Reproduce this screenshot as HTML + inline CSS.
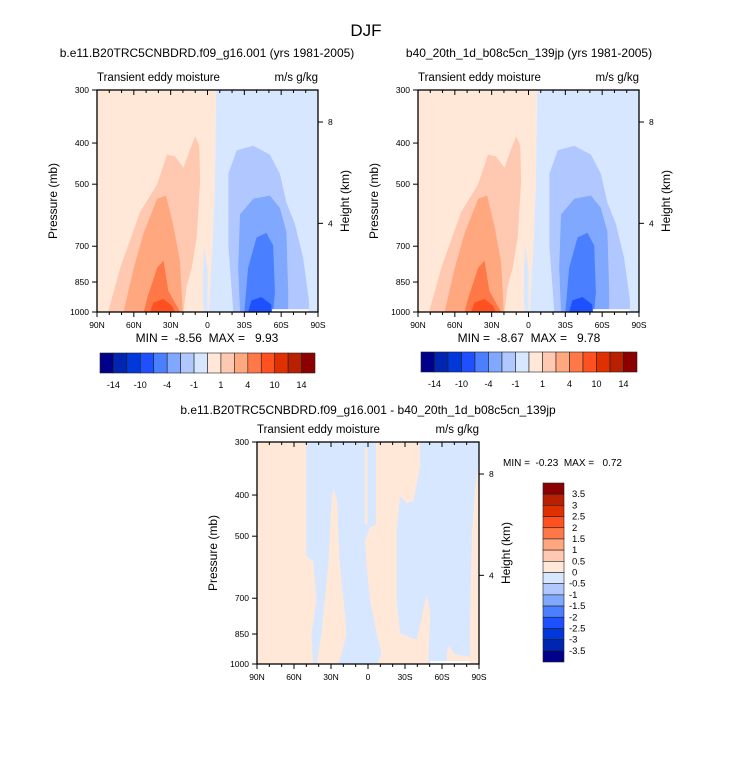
<!DOCTYPE html>
<html><head><meta charset="utf-8"><style>
body{margin:0;background:#fff}
svg{display:block;font-family:"Liberation Sans",sans-serif}
</style></head><body>
<svg id="c" width="733" height="758" viewBox="0 0 733 758" xmlns="http://www.w3.org/2000/svg">
<text x="366" y="36" font-size="17" text-anchor="middle">DJF</text>
</svg>
<script>
// ---- data ----
const latTicks = ["90N","60N","30N","0","30S","60S","90S"];
const presTicks = [300,400,500,700,850,1000];
const heightTicks = [8,4];
const colors = ["#00008b","#0025b0","#0038dc","#1f50ff","#4a80ff","#80a8ff","#b0c8ff","#d6e7ff","#ffe8d8","#ffc8b0","#ffa880","#ff7848","#ff5020","#e03000","#b82000","#8b0000"];
const topCbLabels = ["-14","","-10","","-4","","-1","","1","","4","","10","","14"];
const diffCbLabels = ["3.5","3","2.5","2","1.5","1","0.5","0","-0.5","-1","-1.5","-2","-2.5","-3","-3.5"];
// contour regions: [colorIndex, [[latDeg(+N), pressure mb], ...]]
const meanField = [
 [9, [[80.5,1000],[80.5,988],[71,786],[55,582],[41,500],[33,426],[26.5,430],[19.6,457],[14,412],[10,386],[6.7,405],[6,492],[8.8,667],[12.8,786],[17,870],[19.6,1000]]],
 [10,[[68,1000],[68,988],[60,786],[52,651],[41,541],[33.7,532],[27.7,628],[22.3,763],[20.2,1000]]],
 [11,[[52,1000],[49,925],[41,786],[35.8,757],[31.9,892],[22.3,1000]]],
 [12,[[46.8,1000],[44,950],[35.8,932],[29,967],[26.5,1000]]],
 [7, [[3,1000],[4,900],[3.5,800],[3,700],[2,720],[0,800],[0,1000]]],
 [6, [[-21,1000],[-17,697],[-17,472],[-23.8,416],[-37.3,406],[-50.8,426],[-58.9,472],[-64.3,553],[-71,618],[-77.8,743],[-82.6,939],[-82.6,1000]]],
 [5, [[-26.5,1000],[-25,786],[-26.5,589],[-37.3,541],[-50.8,532],[-58.9,568],[-64.3,647],[-65.7,898],[-65.7,1000]]],
 [4, [[-30,1000],[-33.1,786],[-40,667],[-48,651],[-53.5,697],[-54.9,898],[-53.5,1000]]],
 [3, [[-33.1,1000],[-35.8,939],[-43.9,922],[-52,960],[-52,1000]]]
];
const diffField = [
 [7, [[50,300],[-90,300],[-90,336],[-87,382],[-84.3,491],[-83,705],[-82.5,975],[-82.5,1000],[44.5,1000],[45.8,847],[41.7,705],[44.5,571],[50,558]]],
 [8, [[28.2,384],[25,413],[23.3,558],[21.4,645],[18.7,760],[17.3,847],[21.4,947],[24.1,1000],[41.7,1000],[37.7,847],[35,705],[32.3,590],[30.9,491],[29.5,413]]],
 [8, [[-6.5,300],[-42.3,300],[-42.3,342],[-36.9,413],[-31.4,418],[-26,402],[-23.3,491],[-23.3,705],[-26,847],[-39.6,877],[-47.7,685],[-50.4,760],[-49,1000],[-7,1000],[-11.1,947],[-7,847],[-1.6,705],[1.1,590],[2.4,510],[-1.6,477],[-6.5,469]]],
 [8, [[2.6,310],[0.4,310],[0.4,469],[2.6,469]]],
 [8, [[-64,1000],[-64,930],[-66,905],[-70,950],[-82.5,960],[-82.5,1000]]]
];
// ---- drawing ----
const svg = document.getElementById('c');
const NS = "http://www.w3.org/2000/svg";
function el(tag, attrs, parent){const e=document.createElementNS(NS,tag);for(const k in attrs)e.setAttribute(k,attrs[k]);(parent||svg).appendChild(e);return e;}
function txt(x,y,s,size,anchor,parent){const t=el('text',{x:x,y:y,'font-size':size,'text-anchor':anchor||'middle'},parent);t.textContent=s;return t;}

function panel(x0,y0,w,h,field,name,bg, whitePatch){
  const g=el('g',{});
  
  
  const xs=lat=>x0+(90-lat)/180*w;
  const ys=p=>y0+Math.log(p/300)/Math.log(1000/300)*h;
  bg.forEach(b=>{
    const r=el('polygon',{points:b[1].map(q=>xs(q[0])+','+ys(q[1])).join(' '),fill:colors[b[0]]},g);
    
    
  });
  field.forEach(f=>{
    const r=el('polygon',{points:f[1].map(q=>xs(q[0])+','+ys(q[1])).join(' '),fill:colors[f[0]]},g);
    
    
  });
  if(whitePatch){
    const r=el('rect',{x:xs(whitePatch[0]),y:ys(985),width:xs(whitePatch[1])-xs(whitePatch[0]),height:y0+h-ys(985),fill:'#fff'},g);
    
    
  }
  const fr=el('rect',{x:x0,y:y0,width:w,height:h,fill:'none',stroke:'#000','stroke-width':1.3},g);
  
  
  for(let lat=90;lat>=-90;lat-=10){
    const X=xs(lat), major=(lat%30===0), L=major?5:3;
    el('line',{x1:X,y1:y0+h,x2:X,y2:y0+h+L,stroke:'#000'},g);
    el('line',{x1:X,y1:y0,x2:X,y2:y0+L,stroke:'#000'},g);
  }
  latTicks.forEach((s,i)=>{
    const t=txt(x0+i*w/6,y0+h+16,s,8.5,'middle',g);
    
    
  });
  presTicks.forEach(p=>{
    el('line',{x1:x0-5,y1:ys(p),x2:x0,y2:ys(p),stroke:'#000'},g);
    const t=txt(x0-8,ys(p)+3,String(p),8.5,'end',g);
    
    
  });
  heightTicks.forEach(km=>{
    const p=1071*Math.exp(-km/7.28);
    el('line',{x1:x0+w,y1:ys(p),x2:x0+w+5,y2:ys(p),stroke:'#000'},g);
    const t=txt(x0+w+10,ys(p)+3,String(km),8.5,'start',g);
    
    
  });
  const yt=txt(0,0,'Pressure (mb)',12,'middle',g);
  yt.setAttribute('transform','translate('+(x0-40)+','+(y0+h/2)+') rotate(-90)');
  
  
  const ht=txt(0,0,'Height (km)',12,'middle',g);
  ht.setAttribute('transform','translate('+(x0+w+31)+','+(y0+h/2)+') rotate(-90)');
  
  
  const l=txt(x0,y0-9,'Transient eddy moisture',11.5,'start',g);
  
  
  const r=txt(x0+w,y0-9,'m/s g/kg',11.5,'end',g);
  
  
}
const bgMean=[[8,[[90,300],[-7,300],[-6,500],[-4,700],[-1,1000],[90,1000]]],[7,[[-7,300],[-90,300],[-90,1000],[-1,1000],[-4,700],[-6,500]]]];
const bgDiff=[[8,[[90,300],[-90,300],[-90,1000],[90,1000]]]];
panel(97,90,221,222,meanField,'panel-model-1',bgMean,[-52.5,-82.5]);
panel(418,90,221,222,meanField,'panel-model-2',bgMean,[-52.5,-82.5]);
panel(257,442,222,222,diffField,'panel-difference',bgDiff,[-50.4,-82.5]);

[[207,57,'b.e11.B20TRC5CNBDRD.f09_g16.001 (yrs 1981-2005)','title-model-1'],
 [529,57,'b40_20th_1d_b08c5cn_139jp (yrs 1981-2005)','title-model-2'],
 [368,414,'b.e11.B20TRC5CNBDRD.f09_g16.001 - b40_20th_1d_b08c5cn_139jp','title-difference'],
 [207,342,'MIN =  -8.56  MAX =   9.93','minmax-model-1'],
 [529,342,'MIN =  -8.67  MAX =   9.78','minmax-model-2']].forEach(a=>{
  const t=txt(a[0],a[1],a[2],12,'middle');
  
  
  t.setAttribute('xml:space','preserve');
  t.style.whiteSpace='pre';
});
const mm=txt(503,466,'MIN =  -0.23  MAX =   0.72',10,'start');
mm.style.whiteSpace='pre';



function hbar(x0,y0,w,h,name){
  const g=el('g',{});
  
  
  const bw=w/colors.length;
  colors.forEach((c,i)=>{
    const r=el('rect',{x:x0+i*bw,y:y0,width:bw,height:h,fill:c,stroke:'#222','stroke-width':0.6},g);
    
    
  });
  topCbLabels.forEach((s,i)=>{
    if(!s)return;
    const t=txt(x0+(i+1)*bw,y0+h+15,s,9,'middle',g);
    
    
  });
}
hbar(100,353,215,20,'colorbar-model-1');
hbar(421,352,216,20,'colorbar-model-2');
(function(){
  const x0=543,y0=483,w=21,h=179;
  const g=el('g',{});
  
  
  const bh=h/colors.length;
  colors.slice().reverse().forEach((c,i)=>{
    const r=el('rect',{x:x0,y:y0+i*bh,width:w,height:bh,fill:c,stroke:'#222','stroke-width':0.6},g);
    
    
  });
  diffCbLabels.forEach((s,i)=>{
    const t=txt(s.startsWith('-')?569:572,y0+(i+1)*bh+3,s,9.5,'start',g);
    
    
  });
})();
</script>
</body></html>
